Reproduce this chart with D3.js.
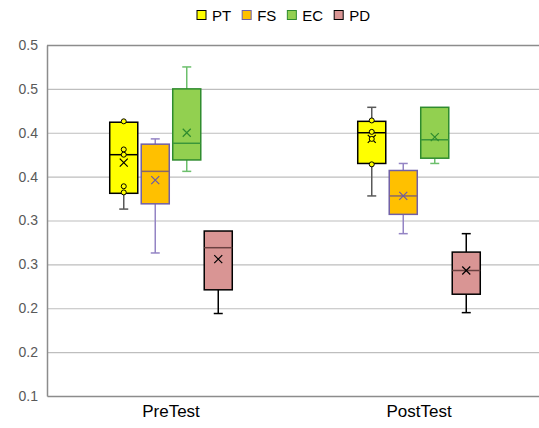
<!DOCTYPE html>
<html>
<head>
<meta charset="utf-8">
<script src="https://cdn.jsdelivr.net/npm/d3@7"></script>
<style>
  body { margin: 0; background: #fff; }
  svg { display: block; font-family: "Liberation Sans", Arial, sans-serif; }
</style>
</head>
<body>
<div id="vis"></div>
<script>
const FRAME_WIDTH = 539;
const FRAME_HEIGHT = 428;
const MARGINS = {left: 47, right: -4, top: 45, bottom: 32};

// data
const CATEGORIES = ['PreTest', 'PostTest'];
const SERIES = ['PT', 'FS', 'EC', 'PD'];
// each row = one series, columns = PreTest, PostTest
const WHISKER_LOW  = [[0.313, 0.328], [0.263, 0.285], [0.356, 0.365], [0.194, 0.195]];
const Q1           = [[0.331, 0.365], [0.319, 0.307], [0.369, 0.371], [0.221, 0.216]];
const MEDIAN       = [[0.375, 0.400], [0.356, 0.328], [0.388, 0.392], [0.269, 0.243]];
const Q3           = [[0.412, 0.413], [0.387, 0.357], [0.450, 0.429], [0.288, 0.264]];
const WHISKER_HIGH = [[0.412, 0.429], [0.393, 0.365], [0.475, 0.429], [0.288, 0.285]];
const MEAN         = [[0.366, 0.393], [0.346, 0.328], [0.400, 0.395], [0.256, 0.243]];
const PT_POINTS_PRE  = [0.413, 0.381, 0.375, 0.339, 0.332];
const PT_POINTS_POST = [0.414, 0.401, 0.393, 0.364];
const Y_TICKS = [0.1, 0.15, 0.2, 0.25, 0.3, 0.35, 0.4, 0.45, 0.5];
const Y_TICK_LABELS = ['0.1', '0.2', '0.2', '0.3', '0.3', '0.4', '0.4', '0.5', '0.5'];

const COLORS = {
  PT: {fill: '#FFFF00', stroke: '#000000', whisker: '#595959', median: '#000000', mean: '#000000'},
  FS: {fill: '#FFC000', stroke: '#7060A8', whisker: '#9484C4', median: '#8A6868', mean: '#6A5AAA'},
  EC: {fill: '#92D050', stroke: '#2E8B2E', whisker: '#6CBF6C', median: '#3A963A', mean: '#2E8B2E'},
  PD: {fill: '#D99594', stroke: '#000000', whisker: '#000000', median: '#6A4040', mean: '#000000'}
};

const X0 = MARGINS.left;
const X1 = FRAME_WIDTH - MARGINS.right;
const Y0 = FRAME_HEIGHT - MARGINS.bottom;

const svg = d3.select('#vis')
  .append('svg')
    .attr('width', FRAME_WIDTH)
    .attr('height', FRAME_HEIGHT);

const X_SCALE = d3.scaleBand()
  .domain(CATEGORIES)
  .range([X0, X1]);

const BOX_SCALE = d3.scaleBand()
  .domain(SERIES)
  .range([-63, 63])
  .paddingInner(0.11)
  .paddingOuter(0.055);

const Y_SCALE = d3.scaleLinear()
  .domain([0.1, 0.5])
  .range([Y0, MARGINS.top]);

// gridlines
svg.append('g')
  .selectAll('line')
  .data(Y_TICKS.slice(1, -1))
  .enter()
  .append('line')
    .attr('x1', X0).attr('x2', X1)
    .attr('y1', d => Y_SCALE(d) + 0.5).attr('y2', d => Y_SCALE(d) + 0.5)
    .attr('stroke', '#BEBEBE')
    .attr('stroke-width', 1.2);

// top border line
svg.append('line')
  .attr('x1', X0).attr('x2', X1)
  .attr('y1', Y_SCALE(0.5) + 0.5).attr('y2', Y_SCALE(0.5) + 0.5)
  .attr('stroke', '#8C8C8C').attr('stroke-width', 1.5);

// y axis
const yAxis = svg.append('g')
  .attr('transform', 'translate(' + X0 + ',0)')
  .call(d3.axisLeft(Y_SCALE)
    .tickValues(Y_TICKS)
    .tickSize(0)
    .tickPadding(9)
    .tickFormat((d, i) => Y_TICK_LABELS[i]));
yAxis.select('.domain').attr('stroke', '#8C8C8C').attr('stroke-width', 1.5);
yAxis.selectAll('text').attr('font-size', '14px').attr('fill', '#595959')
  .attr('font-family', '"Liberation Sans", Arial, sans-serif');

// x axis
const xAxis = svg.append('g')
  .attr('transform', 'translate(0,' + Y0 + ')')
  .call(d3.axisBottom(X_SCALE).tickSize(0).tickPadding(9));
xAxis.select('.domain').attr('stroke', '#8C8C8C').attr('stroke-width', 1.5);
xAxis.selectAll('text').attr('font-size', '17px').attr('fill', '#000')
  .attr('font-family', '"Liberation Sans", Arial, sans-serif');

// boxes
const boxes = [];
SERIES.forEach((s, si) => {
  CATEGORIES.forEach((c, ci) => {
    boxes.push({
      series: s, cat: c,
      lo: WHISKER_LOW[si][ci], q1: Q1[si][ci], med: MEDIAN[si][ci],
      q3: Q3[si][ci], hi: WHISKER_HIGH[si][ci], mean: MEAN[si][ci]
    });
  });
});

const BW = BOX_SCALE.bandwidth();
const CAP = 9;

const g = svg.append('g');
boxes.forEach(b => {
  const col = COLORS[b.series];
  const left = X_SCALE(b.cat) + X_SCALE.bandwidth() / 2 + BOX_SCALE(b.series);
  const cx = left + BW / 2;
  const grp = g.append('g');

  // whiskers
  [[b.q3, b.hi], [b.q1, b.lo]].forEach(([from, to]) => {
    if (Math.abs(Y_SCALE(from) - Y_SCALE(to)) < 1) return;
    grp.append('line')
      .attr('x1', cx).attr('x2', cx)
      .attr('y1', Y_SCALE(from)).attr('y2', Y_SCALE(to))
      .attr('stroke', col.whisker).attr('stroke-width', 1.5);
    grp.append('line')
      .attr('x1', cx - CAP / 2).attr('x2', cx + CAP / 2)
      .attr('y1', Y_SCALE(to)).attr('y2', Y_SCALE(to))
      .attr('stroke', col.whisker).attr('stroke-width', 1.5);
  });

  grp.append('rect')
    .attr('x', left)
    .attr('y', Y_SCALE(b.q3))
    .attr('width', BW)
    .attr('height', Y_SCALE(b.q1) - Y_SCALE(b.q3))
    .attr('fill', col.fill)
    .attr('stroke', col.stroke)
    .attr('stroke-width', 1.5);

  grp.append('line')
    .attr('x1', left).attr('x2', left + BW)
    .attr('y1', Y_SCALE(b.med)).attr('y2', Y_SCALE(b.med))
    .attr('stroke', col.median).attr('stroke-width', 1.5);

  // mean marker
  const my = Y_SCALE(b.mean);
  grp.append('path')
    .attr('d', 'M' + (cx - 4) + ',' + (my - 4) + 'L' + (cx + 4) + ',' + (my + 4) +
               'M' + (cx - 4) + ',' + (my + 4) + 'L' + (cx + 4) + ',' + (my - 4))
    .attr('stroke', col.mean).attr('stroke-width', 1.2).attr('fill', 'none');
});

// inner points for PT
[[CATEGORIES[0], PT_POINTS_PRE], [CATEGORIES[1], PT_POINTS_POST]].forEach(([c, pts]) => {
  const cx = X_SCALE(c) + X_SCALE.bandwidth() / 2 + BOX_SCALE('PT') + BW / 2;
  g.selectAll(null)
    .data(pts)
    .enter()
    .append('circle')
      .attr('cx', cx)
      .attr('cy', d => Y_SCALE(d))
      .attr('r', 2.5)
      .attr('fill', COLORS.PT.fill)
      .attr('stroke', '#000')
      .attr('stroke-width', 1);
});

// legend
const legend = svg.append('g').attr('transform', 'translate(197,15)');
let lx = 0;
SERIES.forEach(s => {
  const item = legend.append('g').attr('transform', 'translate(' + lx + ',0)');
  item.append('rect')
    .attr('x', 0).attr('y', -4.5)
    .attr('width', 9).attr('height', 9)
    .attr('fill', COLORS[s].fill)
    .attr('stroke', COLORS[s].stroke)
    .attr('stroke-width', 1);
  const t = item.append('text')
    .attr('x', 15).attr('y', 5.5)
    .attr('font-size', '15px')
    .attr('fill', '#000')
    .text(s);
  lx += 15 + t.node().getComputedTextLength() + 11;
});
</script>
</body>
</html>
